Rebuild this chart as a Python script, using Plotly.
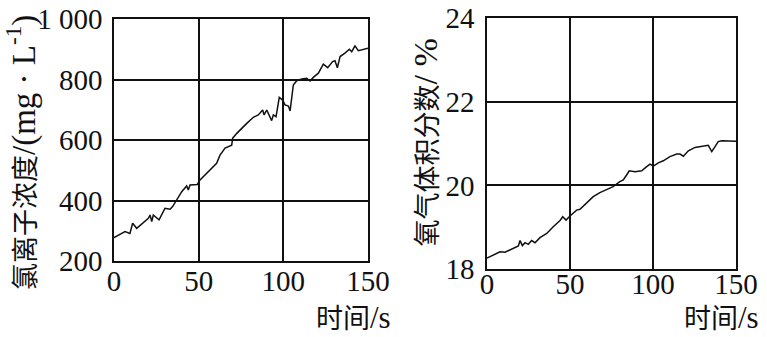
import plotly.graph_objects as go

# Left chart: chloride ion concentration (mg/L) vs time (s)
cl_t = [0, 6.5, 9.4, 11, 13.4, 17.3, 20.3, 21.3, 22.3, 23.2, 26.6, 30.1, 33.1, 34.6, 37, 40,
        42.9, 43.9, 44.9, 47, 49.2, 50.8, 56.7, 60.6, 62.6, 65.6, 69.5, 70.1, 72.5, 74.4,
        78.4, 82.3, 85.2, 87.8, 88.6, 90.2, 91.1, 93.1, 94.1, 95.7, 97.6, 99.6, 101, 103,
        104, 105, 105.9, 107.9, 110.9, 113.8, 115.8, 117.7, 120.7, 123.6, 126.2, 129.1,
        130.5, 131.9, 133.5, 136.4, 139, 140.4, 142.3, 144.3, 147.3, 149.3, 150]
cl_v = [277, 297, 291, 325, 308, 325, 341, 352, 330, 352, 336, 374, 371, 380, 402, 429,
        448, 435, 451, 452, 453, 468, 501, 523, 550, 573, 583, 606, 622, 633,
        655, 675, 683, 699, 683, 699, 688, 664, 683, 677, 741, 732, 716, 712,
        696, 749, 782, 796, 802, 804, 795, 807, 821, 851, 839, 859,
        862, 839, 876, 887, 900, 892, 911, 895, 898, 902, 903]

# Right chart: oxygen volume fraction (%) vs time (s)
o2_t = [0, 3.8, 7.8, 10.8, 15.8, 18.9, 19.9, 21.3, 22.9, 24.9, 26.9, 28.9, 31.9, 36, 39.9,
        44, 45.6, 47.6, 50, 54, 56, 60, 64, 68, 72.1, 76, 80, 82.1, 84.1, 85.7, 89.2,
        93.2, 96.2, 98.2, 100.2, 103.2, 106.2, 110.2, 114.3, 116.3, 118.3, 121.3, 125.3,
        129.3, 133.3, 135.4, 137.3, 139.3, 141.4, 148.4, 150]
o2_v = [18.26, 18.33, 18.41, 18.40, 18.50, 18.55, 18.68, 18.56, 18.63, 18.59, 18.68, 18.63,
        18.75, 18.85, 19.01, 19.16, 19.25, 19.17, 19.27, 19.41, 19.43, 19.57, 19.73, 19.83,
        19.91, 19.97, 20.09, 20.13, 20.25, 20.35, 20.33, 20.35, 20.45, 20.51, 20.46, 20.54,
        20.59, 20.69, 20.75, 20.75, 20.70, 20.83, 20.91, 20.93, 20.96, 20.81, 20.93, 21.05,
        21.07, 21.06, 21.06]

x_ticks = [0, 50, 100, 150]
cl_ticks = [200, 400, 600, 800, 1000]
cl_ticktext = ["200", "400", "600", "800", "1 000"]
o2_ticks = [18, 20, 22, 24]

W, H = 767, 337
SERIF = "Liberation Serif, Times New Roman, Noto Sans CJK SC, serif"
MIXED = "Liberation Serif, Noto Sans CJK SC, serif"

fig = go.Figure()
fig.add_trace(go.Scatter(x=cl_t, y=cl_v, mode="lines", line=dict(color="#111", width=1.5),
                         xaxis="x", yaxis="y", showlegend=False))
fig.add_trace(go.Scatter(x=o2_t, y=o2_v, mode="lines", line=dict(color="#111", width=1.5),
                         xaxis="x2", yaxis="y2", showlegend=False))

axis_common = dict(showgrid=True, gridcolor="#111", gridwidth=1.5, showline=True,
                   linecolor="#111", linewidth=1.5, mirror=True, ticks="", zeroline=False,
                   automargin=False,
                   tickfont=dict(family=SERIF, size=29, color="#111"))

fig.update_layout(
    template="none",
    width=W, height=H, margin=dict(l=0, r=0, t=0, b=0, autoexpand=False),
    paper_bgcolor="white", plot_bgcolor="white",
    xaxis=dict(domain=[114 / W, 368 / W], range=[0, 150], tickvals=x_ticks,
               anchor="y", ticklabelstandoff=-7, **axis_common),
    yaxis=dict(domain=[(H - 261) / H, (H - 19) / H], range=[200, 1000], tickvals=cl_ticks,
               ticktext=cl_ticktext, anchor="x", ticklabelstandoff=4, **axis_common),
    xaxis2=dict(domain=[487 / W, 736 / W], range=[0, 150], tickvals=x_ticks,
                anchor="y2", ticklabelstandoff=-12, **axis_common),
    yaxis2=dict(domain=[(H - 269) / H, (H - 18.3) / H], range=[18, 24], tickvals=o2_ticks,
                anchor="x2", ticklabelstandoff=5, **axis_common),
)

ann_font = dict(family=MIXED, size=27, color="#111")
time_label = "时间<span style='font-size:31px'>/s</span>"
fig.add_annotation(text=time_label, x=353.5 / W, y=1 - 337 / H, xref="paper", yref="paper",
                   showarrow=False, font=ann_font, xanchor="center", yanchor="bottom")
fig.add_annotation(text=time_label, x=721.5 / W, y=1 - 337 / H, xref="paper", yref="paper",
                   showarrow=False, font=ann_font, xanchor="center", yanchor="bottom")
fig.add_annotation(text="氯离子浓度<span style='font-size:33px'>/(mg · L<sup>-1</sup>)</span>",
                   x=21 / W, y=1 - 153 / H,
                   xref="paper", yref="paper", showarrow=False, textangle=-90,
                   font=dict(family=MIXED, size=27, color="#111"),
                   xanchor="center", yanchor="middle")
fig.add_annotation(text="氧气体积分数<span style='font-size:34px'>/ %</span>",
                   x=425 / W, y=1 - 142.5 / H,
                   xref="paper", yref="paper", showarrow=False, textangle=-90,
                   font=dict(family=MIXED, size=27, color="#111"),
                   xanchor="center", yanchor="middle")

fig.write_html("out.html")
